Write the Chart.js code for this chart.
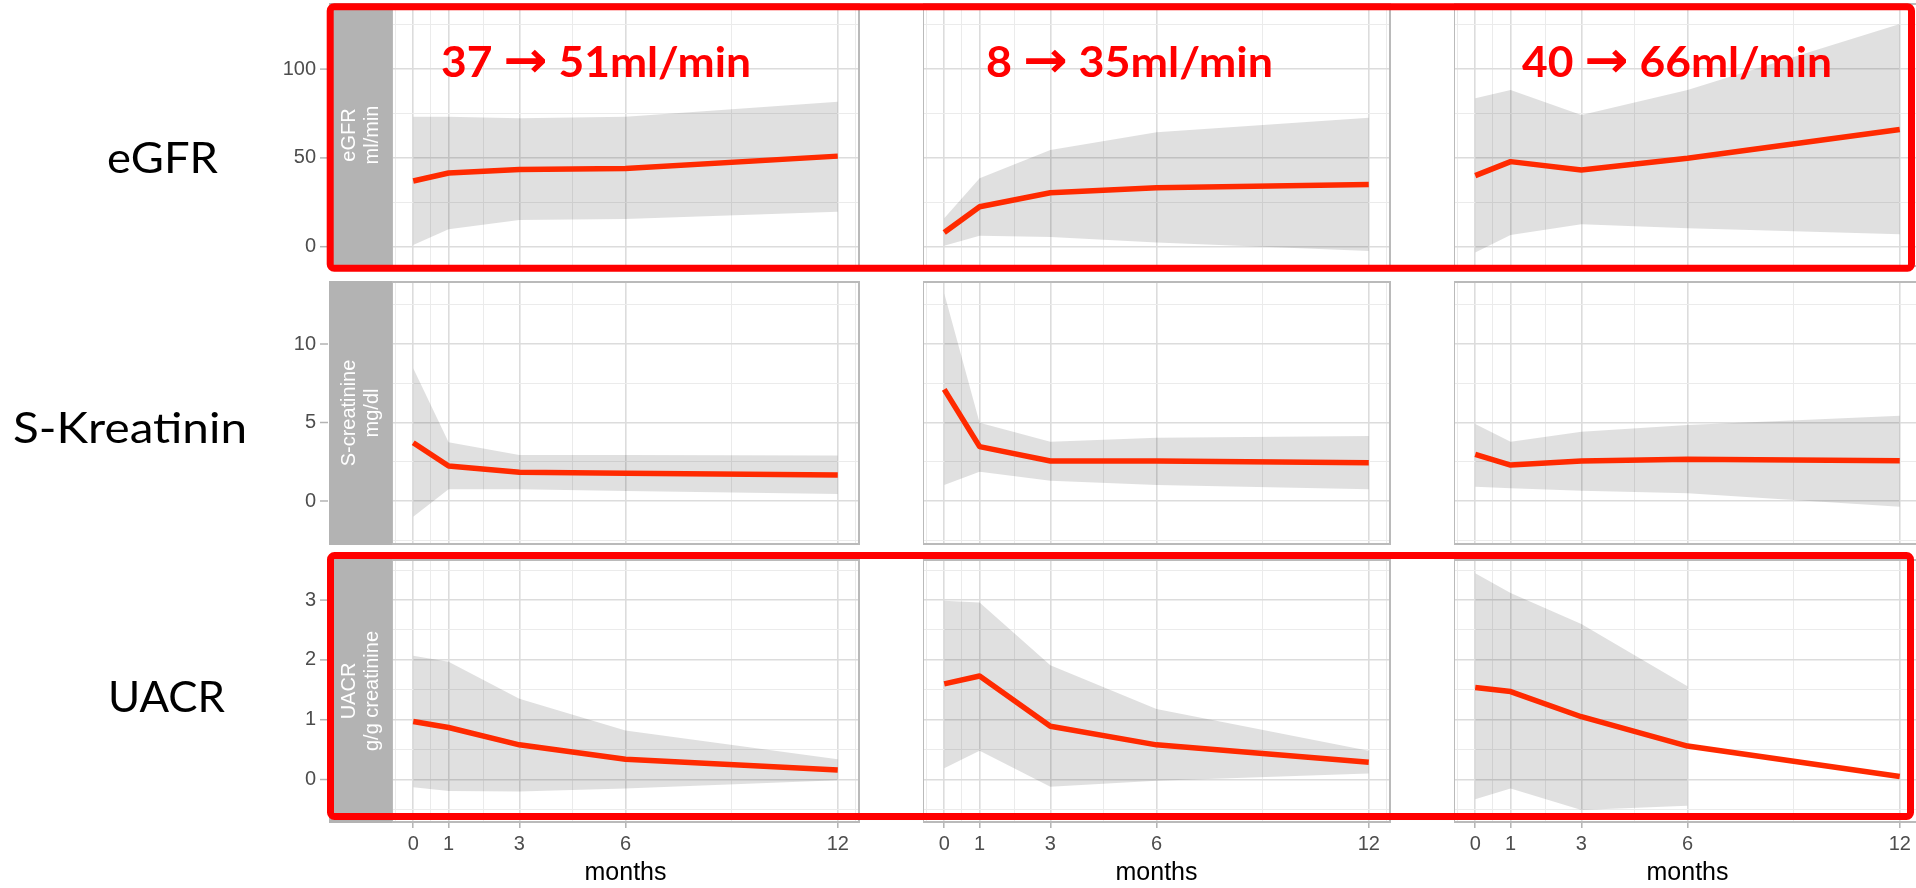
<!DOCTYPE html>
<html>
<head>
<meta charset="utf-8">
<script src="https://cdn.jsdelivr.net/npm/chart.js@4.4.1/dist/chart.umd.min.js"></script>
<style>
  html, body { margin: 0; padding: 0; background: #fff; }
  #stage { position: relative; width: 1916px; height: 888px; overflow: hidden; background: #fff; }
  #stage canvas { position: absolute; }
  #overlay { position: absolute; left: 0; top: 0; pointer-events: none; }
</style>
</head>
<body>
<div id="stage"></div>
<script>
// ---- data -------------------------------------------------------------
const months = [0, 1, 3, 6, 12];
const monthTicks = [0, 1, 3, 6, 12];

// one inner array per patient group (left, middle, right column)
const egfrMean = [[37, 41.5, 43.5, 44, 51], [8, 22.5, 30.4, 33.2, 35], [40, 47.9, 43.2, 49.8, 66]];
const egfrLow  = [[1.0, 9.8, 15.0, 15.6, 19.7], [0.6, 6.2, 5.5, 2.3, -2.4], [-3.2, 6.6, 12.6, 10.4, 7.0]];
const egfrHigh = [[73.2, 73.2, 72.3, 73.2, 81.6], [16.0, 38.5, 54.4, 64.4, 72.6], [83.6, 88.2, 74.2, 88.2, 125.4]];
const egfrTicks = [0, 50, 100];

const creaMean = [[3.71, 2.23, 1.83, 1.76, 1.66], [7.11, 3.46, 2.55, 2.55, 2.44], [2.97, 2.29, 2.55, 2.66, 2.57]];
const creaLow  = [[-1.0, 0.75, 0.75, 0.64, 0.45], [1.02, 1.87, 1.29, 1.02, 0.75], [0.91, 0.81, 0.66, 0.49, -0.36]];
const creaHigh = [[8.45, 3.74, 2.93, 2.93, 2.89], [13.23, 4.99, 3.78, 4.03, 4.14], [4.9, 3.78, 4.41, 4.84, 5.43]];
const creaTicks = [0, 5, 10];

const uacrMean = [[0.97, 0.87, 0.58, 0.34, 0.16], [1.60, 1.73, 0.89, 0.58, 0.29], [1.54, 1.47, 1.05, 0.56, 0.05]];
const uacrLow  = [[-0.13, -0.19, -0.20, -0.15, -0.01], [0.19, 0.48, -0.12, -0.02, 0.10], [-0.33, -0.15, -0.51, -0.44, null]];
const uacrHigh = [[2.07, 1.97, 1.35, 0.82, 0.34], [2.99, 2.96, 1.91, 1.18, 0.48], [3.45, 3.12, 2.60, 1.56, null]];
const uacrTicks = [0, 1, 2, 3];

const rowLabels = ['eGFR', 'S-Kreatinin', 'UACR'];
const stripLabels = [['eGFR', 'ml/min'], ['S-creatinine', 'mg/dl'], ['UACR', 'g/g creatinine']];
const noteFrom = [37, 8, 40];
const noteTo = [51, 35, 66];

// ---- layout -----------------------------------------------------------
const rows = [
  { mean: egfrMean, low: egfrLow, high: egfrHigh, ticks: egfrTicks, min: -10.87, max: 136.66 },
  { mean: creaMean, low: creaLow, high: creaHigh, ticks: creaTicks, min: -2.74, max: 13.95 },
  { mean: uacrMean, low: uacrLow, high: uacrHigh, ticks: uacrTicks, min: -0.71, max: 3.67 }
];
const colLeft = [392, 923, 1454];
const rowTop = [4, 282, 560];
const panelW = 467, panelH = 262;
const xMin = -0.6, xMax = 12.6;
const M = 14;              // spare margin around each plot area
const yAxisW = 120;        // tick labels + strip in the left column
const xAxisH = 66;         // tick labels + title under the bottom row

const LINE_RED = '#ff2a00';
const BAND = 'rgba(0,0,0,0.12)';
const GRID_MAJOR = '#dcdcdc', GRID_MINOR = '#ebebeb';
const FRAME = '#bababa', STRIP = '#b3b3b3', AXIS_TEXT = '#4d4d4d';

// minor gridlines halfway between breaks, extended one step past each end
function minorBreaks(major, lo, hi) {
  const b = major.slice();
  const d = b[1] - b[0];
  if (lo < b[0]) b.unshift(b[0] - d);
  if (hi > b[b.length - 1]) b.push(b[b.length - 1] + d);
  const out = [];
  for (let i = 0; i < b.length - 1; i++) out.push((b[i] + b[i + 1]) / 2);
  return out.filter(v => v > lo && v < hi);
}
function gridValues(major, lo, hi) {
  return major.filter(v => v >= lo && v <= hi).concat(minorBreaks(major, lo, hi)).sort((a, b) => a - b);
}
const points = vals => months.map((m, i) => ({ x: m, y: vals[i] })).filter(p => p.y !== null);

const framePlugin = {
  id: 'facetFrame',
  afterDraw(chart, args, opts) {
    const { ctx, chartArea: a } = chart;
    ctx.save();
    ctx.strokeStyle = FRAME;
    ctx.lineWidth = 2;
    ctx.strokeRect(a.left, a.top, a.right - a.left, a.bottom - a.top);
    if (opts.col === 0) {
      // facet strip on the left
      ctx.fillStyle = STRIP;
      ctx.fillRect(a.left - 63, a.top - 1, 63, a.bottom - a.top + 2);
      ctx.fillStyle = '#ffffff';
      ctx.font = '20px "Liberation Sans", Arial, sans-serif';
      ctx.textAlign = 'center';
      ctx.textBaseline = 'middle';
      ctx.translate(a.left - 31.5, (a.top + a.bottom) / 2);
      ctx.rotate(-Math.PI / 2);
      const lines = stripLabels[opts.row];
      ctx.fillText(lines[0], 0, -11.5);
      ctx.fillText(lines[1], 0, 11.5);
      ctx.setTransform(1, 0, 0, 1, 0, 0);
      // y tick marks sit outside the strip
      const ys = chart.scales.y;
      ctx.strokeStyle = STRIP;
      ctx.lineWidth = 1.5;
      rows[opts.row].ticks.forEach(v => {
        const py = ys.getPixelForValue(v);
        ctx.beginPath();
        ctx.moveTo(a.left - 72, py);
        ctx.lineTo(a.left - 64, py);
        ctx.stroke();
      });
    }
    ctx.restore();
  }
};

const stage = document.getElementById('stage');

function makePanel(r, c) {
  const spec = rows[r];
  const leftExtra = c === 0 ? yAxisW : 0;
  const bottomExtra = r === 2 ? xAxisH : M;
  const w = leftExtra + panelW + M;
  const h = M + panelH + bottomExtra;
  const cv = document.createElement('canvas');
  cv.width = w; cv.height = h;
  cv.style.left = (colLeft[c] - leftExtra) + 'px';
  cv.style.top = (rowTop[r] - M) + 'px';
  cv.style.width = w + 'px';
  cv.style.height = h + 'px';
  stage.appendChild(cv);

  const xGrid = gridValues(monthTicks, xMin, xMax);
  const yGrid = gridValues(spec.ticks, spec.min, spec.max);
  const isMajorX = v => monthTicks.includes(v);
  const isMajorY = v => spec.ticks.includes(v);

  new Chart(cv, {
    type: 'line',
    data: {
      datasets: [
        { data: points(spec.mean[c]), borderColor: LINE_RED, borderWidth: 5.5, pointRadius: 0, fill: false, tension: 0, borderJoinStyle: 'round' },
        { data: points(spec.low[c]), borderWidth: 0, borderColor: 'rgba(0,0,0,0)', pointRadius: 0, fill: false },
        { data: points(spec.high[c]), borderWidth: 0, borderColor: 'rgba(0,0,0,0)', pointRadius: 0, fill: '-1', backgroundColor: BAND }
      ]
    },
    options: {
      responsive: false,
      animation: false,
      devicePixelRatio: 1,
      events: [],
      layout: { padding: { top: M, right: M, bottom: r === 2 ? 0 : M, left: 0 } },
      plugins: { legend: { display: false }, tooltip: { enabled: false }, facetFrame: { row: r, col: c } },
      scales: {
        x: {
          type: 'linear', min: xMin, max: xMax,
          afterBuildTicks: s => { s.ticks = xGrid.map(v => ({ value: v })); },
          afterFit: s => { s.height = r === 2 ? xAxisH : 0; s.paddingLeft = 0; s.paddingRight = 0; },
          border: { display: false },
          grid: {
            color: ctx => isMajorX(ctx.tick.value) ? GRID_MAJOR : GRID_MINOR,
            lineWidth: ctx => isMajorX(ctx.tick.value) ? 1.6 : 1,
            drawTicks: r === 2, tickLength: 6, tickWidth: 1.5,
            tickColor: ctx => isMajorX(ctx.tick.value) ? STRIP : 'rgba(0,0,0,0)'
          },
          ticks: {
            display: r === 2, autoSkip: false, maxRotation: 0, minRotation: 0, padding: 4,
            color: AXIS_TEXT, font: { family: '"Liberation Sans", Arial, sans-serif', size: 20 },
            callback: v => isMajorX(v) ? String(v) : ''
          },
          title: {
            display: r === 2, text: 'months', color: '#000',
            font: { family: '"Liberation Sans", Arial, sans-serif', size: 25 },
            padding: { top: 0, bottom: 0 }
          }
        },
        y: {
          type: 'linear', min: spec.min, max: spec.max,
          afterBuildTicks: s => { s.ticks = yGrid.map(v => ({ value: v })); },
          afterFit: s => { s.width = c === 0 ? yAxisW : 0; s.paddingTop = 0; s.paddingBottom = 0; },
          border: { display: false },
          grid: {
            color: ctx => isMajorY(ctx.tick.value) ? GRID_MAJOR : GRID_MINOR,
            lineWidth: ctx => isMajorY(ctx.tick.value) ? 1.6 : 1,
            drawTicks: false
          },
          ticks: {
            display: c === 0, autoSkip: false, padding: 76,
            color: AXIS_TEXT, font: { family: '"Liberation Sans", Arial, sans-serif', size: 20 },
            callback: v => isMajorY(v) ? String(v) : ''
          }
        }
      }
    },
    plugins: [framePlugin]
  });
}

for (let r = 0; r < 3; r++) for (let c = 0; c < 3; c++) makePanel(r, c);

// ---- labels and highlight frames on top ----------------------------------
const SVGNS = 'http://www.w3.org/2000/svg';
const svg = document.createElementNS(SVGNS, 'svg');
svg.setAttribute('id', 'overlay');
svg.setAttribute('width', '1916');
svg.setAttribute('height', '888');
stage.appendChild(svg);

function makeText(x, y, size, weight, fill, width) {
  const t = document.createElementNS(SVGNS, 'text');
  t.setAttribute('x', x);
  t.setAttribute('y', y);
  t.setAttribute('font-family', 'Lato, "Open Sans", sans-serif');
  t.setAttribute('font-size', size);
  t.setAttribute('font-weight', weight);
  t.setAttribute('fill', fill);
  if (width) { t.setAttribute('textLength', width); t.setAttribute('lengthAdjust', 'spacingAndGlyphs'); }
  svg.appendChild(t);
  return t;
}
function addSpan(parent, str, attrs) {
  const s = document.createElementNS(SVGNS, 'tspan');
  Object.entries(attrs || {}).forEach(([k, v]) => s.setAttribute(k, v));
  s.textContent = str;
  parent.appendChild(s);
}
function addFrame(x0, y0, x1, y1) {
  const sw = 7;
  const rc = document.createElementNS(SVGNS, 'rect');
  rc.setAttribute('x', x0 + sw / 2);
  rc.setAttribute('y', y0 + sw / 2);
  rc.setAttribute('width', x1 - x0 - sw);
  rc.setAttribute('height', y1 - y0 - sw);
  rc.setAttribute('rx', 4);
  rc.setAttribute('fill', 'none');
  rc.setAttribute('stroke', '#ff0000');
  rc.setAttribute('stroke-width', sw);
  svg.appendChild(rc);
}

const rowLabelPos = [[107, 173, 111], [13, 443, 234], [108, 712, 117]];
rowLabels.forEach((s, i) => {
  const t = makeText(rowLabelPos[i][0], rowLabelPos[i][1], 42, 400, '#000', rowLabelPos[i][2]);
  addSpan(t, s);
});

// eGFR change per group, start -> 12 months
const notePos = [[441, 77, 310], [986, 77, 287], [1522, 77, 310]];
noteFrom.forEach((v, i) => {
  const t = makeText(notePos[i][0], notePos[i][1], 42, 700, '#ff0000', notePos[i][2]);
  addSpan(t, v + ' ');
  addSpan(t, '\u2192', { 'font-family': '"DejaVu Sans", sans-serif', 'font-size': 50 });
  addSpan(t, ' ' + noteTo[i] + 'ml/min');
});

addFrame(326.7, 3.3, 1915, 271.7);
addFrame(327, 552, 1914, 820);
</script>
</body>
</html>
